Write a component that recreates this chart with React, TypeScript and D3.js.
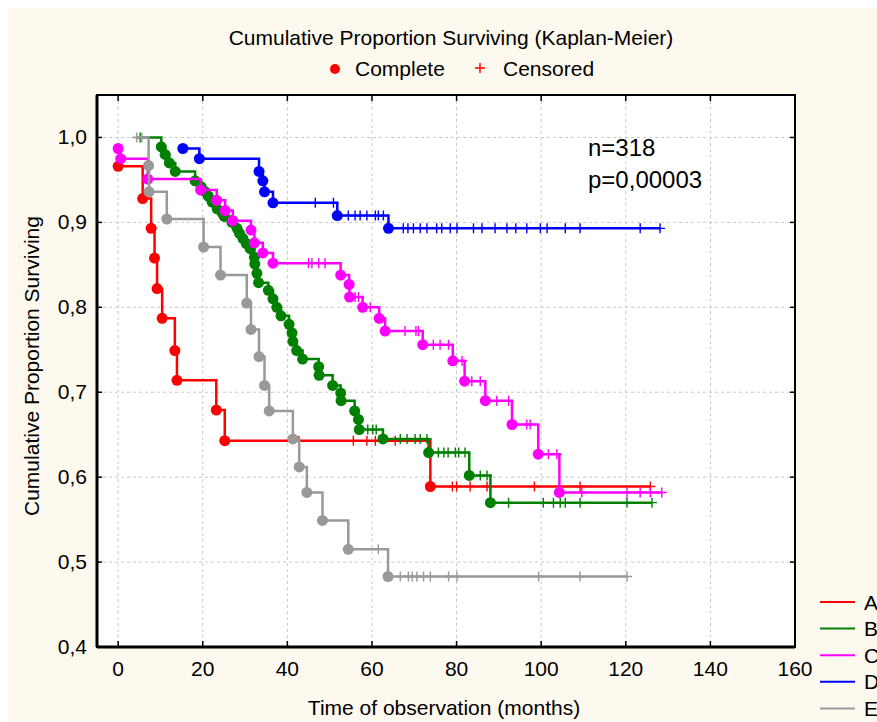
import React from "react";
import * as d3 from "d3";

const W = 877;
const H = 722;
const FONT = "'Liberation Sans', Arial, sans-serif";

const xTicks = [0, 20, 40, 60, 80, 100, 120, 140, 160];
const yTicks = [0.4, 0.5, 0.6, 0.7, 0.8, 0.9, 1.0];
const yTickLabels = ["0,4", "0,5", "0,6", "0,7", "0,8", "0,9", "1,0"];

const groups = ["A", "B", "C", "D", "E"];
const colors = ["#ff0000", "#008000", "#ff00ff", "#0000ff", "#999999"];

// each group: where the curve starts [time, level], events [time, level after], censored times
const startA = [0, 0.966];
const eventsA = [
  [0, 0.966], [5.8, 0.928], [7.8, 0.893], [8.6, 0.858], [9.2, 0.822], [10.4, 0.787],
  [13.4, 0.749], [13.9, 0.714], [23.2, 0.679], [25.2, 0.643], [73.8, 0.589],
];
const censoredA = [42.7, 55.6, 58.8, 60.8, 65.5, 79, 80, 83.2, 87.2, 98.4, 109.2, 125.8];

const startB = [4.5, 1.0];
const eventsB = [
  [10.2, 0.989], [11.1, 0.98], [12.1, 0.97], [13.5, 0.96], [18.2, 0.949], [19.6, 0.942],
  [20.6, 0.936], [21.3, 0.931], [22.2, 0.924], [23.4, 0.916], [24.6, 0.911], [25.1, 0.907],
  [26.9, 0.9], [28.1, 0.893], [28.7, 0.887], [29.5, 0.881], [30.3, 0.875], [31.2, 0.869],
  [32.2, 0.859], [32.3, 0.851], [32.8, 0.84], [33.2, 0.829], [35.5, 0.82], [36.6, 0.81],
  [37.5, 0.8], [38.5, 0.79], [40.4, 0.78], [41.1, 0.77], [41.3, 0.76], [42.2, 0.749],
  [43.6, 0.739], [47.4, 0.73], [47.5, 0.72], [50.7, 0.708], [52.6, 0.699], [52.7, 0.69],
  [55.9, 0.678], [56.8, 0.668], [57.0, 0.656], [62.6, 0.645], [73.4, 0.629], [83.0, 0.602],
  [88.0, 0.57],
];
const censoredB = [
  5.2, 59.0, 60.2, 61.0, 66.7, 68.3, 70.2, 71.4, 73.0, 75.7, 77.0, 78.0, 79.7, 80.5, 82.0,
  85.6, 87.2, 92.3, 100.5, 102.9, 104.5, 105.7, 109.2, 120.3, 126.2,
];

const startC = [0, 0.987];
const eventsC = [
  [0, 0.987], [0.6, 0.975], [7.0, 0.951], [19.5, 0.938], [23.3, 0.926], [25.3, 0.914],
  [27.1, 0.902], [31.4, 0.891], [32.2, 0.876], [34.2, 0.864], [36.6, 0.852], [52.6, 0.838],
  [54.6, 0.827], [54.7, 0.812], [57.8, 0.8], [61.7, 0.787], [63.1, 0.772], [72.0, 0.756],
  [79.1, 0.737], [81.9, 0.713], [86.8, 0.69], [93.1, 0.662], [99.3, 0.627], [104.3, 0.582],
];
const censoredC = [
  45.0, 45.8, 47.4, 48.9, 56.0, 56.8, 59.6, 67.8, 70.4, 71.0, 74.5, 76.1, 78.1, 81.3, 83.6,
  85.6, 89.5, 92.3, 96.6, 97.4, 101.7, 103.7, 109.6, 120.3, 123.4, 125.8, 128.5,
];

const startD = [15.3, 0.987];
const eventsD = [
  [15.3, 0.987], [19.2, 0.975], [33.3, 0.96], [34.2, 0.949], [34.6, 0.936], [36.6, 0.923],
  [51.8, 0.908], [63.9, 0.893],
];
const censoredD = [
  46.6, 50.9, 54.4, 56.0, 57.2, 58.8, 60.8, 61.5, 62.7, 67.4, 68.5, 69.8, 71.4, 73.0, 75.3,
  76.5, 78.5, 80.1, 84.0, 86.0, 89.1, 91.9, 94.0, 96.6, 99.8, 101.4, 105.7, 109.2, 123.4, 128.1,
];

const startE = [4.3, 1.0];
const eventsE = [
  [7.2, 0.967], [7.3, 0.936], [11.5, 0.904], [20.2, 0.871], [24.2, 0.838], [30.4, 0.805],
  [31.4, 0.774], [33.3, 0.742], [34.6, 0.708], [35.7, 0.678], [41.3, 0.645], [42.8, 0.612],
  [44.6, 0.582], [48.3, 0.549], [54.4, 0.515], [63.8, 0.483],
];
const censoredE = [4.4, 5.6, 61.5, 66.7, 68.6, 69.5, 70.6, 72.2, 73.8, 78.1, 80.1, 99.4, 109.2, 120.3];

const series = [
  { start: startA, events: eventsA, censored: censoredA },
  { start: startB, events: eventsB, censored: censoredB },
  { start: startC, events: eventsC, censored: censoredC },
  { start: startD, events: eventsD, censored: censoredD },
  { start: startE, events: eventsE, censored: censoredE },
];

const x = d3.scaleLinear().domain([-5, 160]).range([97, 795]);
const y = d3.scaleLinear().domain([0.4, 1.05]).range([647, 95]);

const levelAt = (s, t) => {
  let v = s.start[1];
  for (const e of s.events) if (e[0] <= t) v = e[1];
  return v;
};

const stepLine = d3
  .line()
  .x((d) => x(d[0]))
  .y((d) => y(d[1]))
  .curve(d3.curveStepAfter);

const Cross = ({ cx, cy, color }) => (
  <path
    d={`M${cx - 5},${cy}H${cx + 5}M${cx},${cy - 5}V${cy + 5}`}
    stroke={color}
    strokeWidth={1.4}
    fill="none"
  />
);

export default function App() {
  return (
    <svg
      width={W}
      height={H}
      style={{ position: "absolute", left: 0, top: 0, display: "block" }}
      fontFamily={FONT}
    >
      <rect x={0} y={0} width={W} height={H} fill="#ffffff" />
      <rect x={8} y={8} width={W - 8} height={H - 8} fill="#fdf9ee" />

      <text x={451} y={45} textAnchor="middle" fontSize={21} fill="#000">
        Cumulative Proportion Surviving (Kaplan-Meier)
      </text>
      <circle cx={335} cy={69} r={5} fill="#ff0000" />
      <text x={355} y={76} fontSize={21}>Complete</text>
      <Cross cx={480} cy={68} color="#ff0000" />
      <text x={503} y={76} fontSize={21}>Censored</text>

      <rect x={x(-5)} y={y(1.05)} width={x(160) - x(-5)} height={y(0.4) - y(1.05)} fill="#ffffff" />

      {xTicks.slice(0, -1).map((t) => (
        <line key={"gx" + t} x1={x(t)} x2={x(t)} y1={y(1.05)} y2={y(0.4)} stroke="#c8c8c8" strokeDasharray="3,3" />
      ))}
      {yTicks.slice(1).map((t) => (
        <line key={"gy" + t} x1={x(-5)} x2={x(160)} y1={y(t)} y2={y(t)} stroke="#c8c8c8" strokeDasharray="3,3" />
      ))}

      {series.map((s, i) => {
        const last = Math.max(s.events[s.events.length - 1][0], d3.max(s.censored));
        const pts = [s.start, ...s.events, [last, s.events[s.events.length - 1][1]]];
        return (
          <g key={groups[i]}>
            <path d={stepLine(pts)} fill="none" stroke={colors[i]} strokeWidth={2.5} />
            {s.censored.map((t, j) => (
              <Cross key={j} cx={x(t)} cy={y(levelAt(s, t))} color={colors[i]} />
            ))}
            {s.events.map((e, j) => (
              <circle key={j} cx={x(e[0])} cy={y(e[1])} r={5.5} fill={colors[i]} />
            ))}
          </g>
        );
      })}

      <rect x={x(-5)} y={y(1.05)} width={x(160) - x(-5)} height={y(0.4) - y(1.05)} fill="none" stroke="#000" strokeWidth={2} />
      <line x1={x(-5)} x2={x(160)} y1={y(0.4)} y2={y(0.4)} stroke="#000" strokeWidth={3} />
      <line x1={x(-5)} x2={x(-5)} y1={y(1.05)} y2={y(0.4)} stroke="#000" strokeWidth={3} />

      {xTicks.map((t, i) => (
        <g key={"xt" + t}>
          <line x1={x(t)} x2={x(t)} y1={y(0.4)} y2={y(0.4) - 6} stroke="#000" strokeWidth={1.5} />
          <line x1={x(t)} x2={x(t)} y1={y(1.05)} y2={y(1.05) + 6} stroke="#000" strokeWidth={1.5} />
          <text x={x(t)} y={676} textAnchor="middle" fontSize={21}>{t}</text>
        </g>
      ))}
      {yTicks.map((t, i) => (
        <g key={"yt" + t}>
          <line x1={x(-5)} x2={x(-5) + 5} y1={y(t)} y2={y(t)} stroke="#000" strokeWidth={1.5} />
          <line x1={x(160)} x2={x(160) - 5} y1={y(t)} y2={y(t)} stroke="#000" strokeWidth={1.5} />
          <text x={87} y={y(t) + 7} textAnchor="end" fontSize={21}>{yTickLabels[i]}</text>
        </g>
      ))}

      <text x={444} y={715} textAnchor="middle" fontSize={21}>Time of observation (months)</text>
      <text transform="translate(39,366) rotate(-90)" textAnchor="middle" fontSize={21}>
        Cumulative Proportion Surviving
      </text>

      <text x={588} y={156} fontSize={24}>n=318</text>
      <text x={588} y={188} fontSize={24}>p=0,00003</text>

      {groups.map((g, i) => (
        <g key={"lg" + g}>
          <line x1={820} x2={855} y1={602 + i * 26.6} y2={602 + i * 26.6} stroke={colors[i]} strokeWidth={2} />
          <text x={864} y={602 + i * 26.6 + 7.5} fontSize={21}>{g}</text>
        </g>
      ))}
    </svg>
  );
}
